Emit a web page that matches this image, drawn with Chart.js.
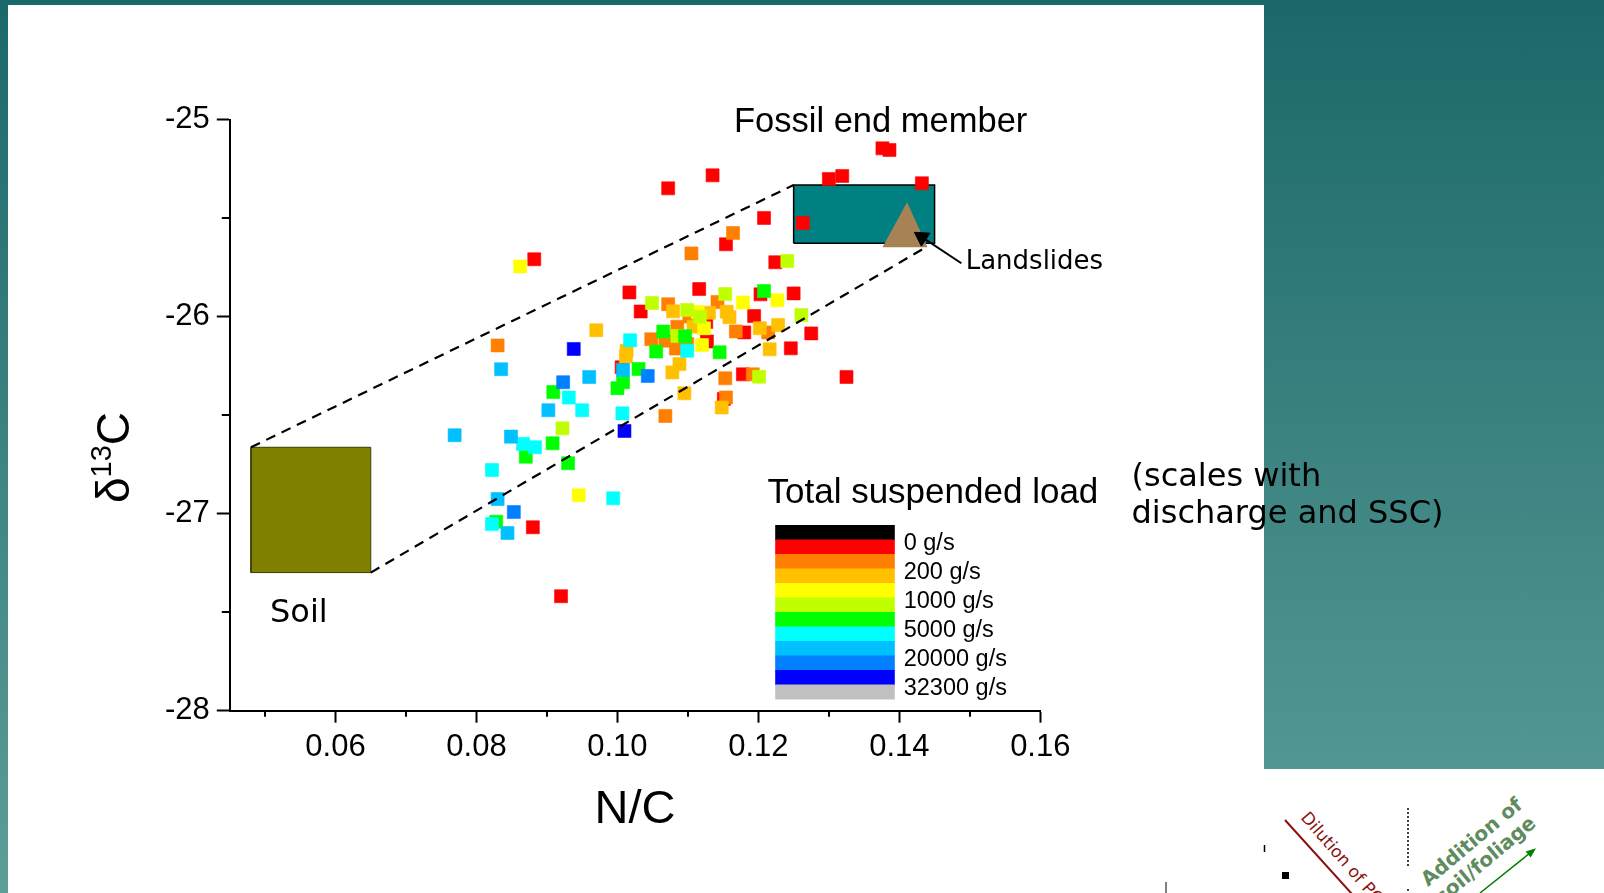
<!DOCTYPE html>
<html>
<head>
<meta charset="utf-8">
<script src="https://cdn.jsdelivr.net/npm/chart.js@4.4.1/dist/chart.umd.min.js"></script>
<style>
html,body{margin:0;padding:0;width:1604px;height:893px;overflow:hidden;}
body{position:relative;background:linear-gradient(to bottom, rgb(27,104,106) 0%, rgb(92,158,152) 100%);}
#panel{position:absolute;left:8px;top:5px;width:1256px;height:888px;background:#fff;}
#panel2{position:absolute;left:1264px;top:769px;width:340px;height:124px;background:#fff;}
#c{position:absolute;left:0;top:0;}
#frag{position:absolute;left:0;top:0;pointer-events:none;}
</style>
</head>
<body>
<div id="panel"></div>
<div id="panel2"></div>
<svg id="frag" width="1604" height="893">
  <line x1="1166" y1="882" x2="1166" y2="893" stroke="#000" stroke-width="1"/>
  <line x1="1264.5" y1="845" x2="1264.5" y2="852" stroke="#000" stroke-width="1.5"/>
  <rect x="1282" y="872" width="7" height="7" fill="#000"/>
  <line x1="1285" y1="820" x2="1352" y2="894" stroke="#8b1010" stroke-width="2"/>
  <text transform="translate(1300,818) rotate(49)" font-family="DejaVu Sans" font-size="17" fill="#8b1010">Dilution of POC</text>
  <line x1="1408" y1="808" x2="1408" y2="867" stroke="#000" stroke-width="1.5" stroke-dasharray="2,2"/>
  <line x1="1408" y1="889" x2="1408" y2="893" stroke="#000" stroke-width="1.5" stroke-dasharray="2,2"/>
  <text transform="translate(1428,887) rotate(-40)" font-family="DejaVu Sans" font-weight="bold" font-size="20" fill="#5e8c5e">Addition of</text>
  <text transform="translate(1442,905) rotate(-40)" font-family="DejaVu Sans" font-weight="bold" font-size="20" fill="#5e8c5e">soil/foliage</text>
  <line x1="1480" y1="893" x2="1530" y2="853" stroke="#008000" stroke-width="1.5"/>
  <polygon points="1536,848.3 1530.7,857.6 1525.7,851.4" fill="#008000"/>
</svg>
<canvas id="c" width="1604" height="893"></canvas>
<script>
// ---------- data ----------
const xTickValues = [0.06, 0.08, 0.10, 0.12, 0.14, 0.16];
const xTickLabels = ['0.06', '0.08', '0.10', '0.12', '0.14', '0.16'];
const xMinorTicks = [0.05, 0.07, 0.09, 0.11, 0.13, 0.15];
const yTickValues = [-28, -27, -26, -25];
const yTickLabels = ['-28', '-27', '-26', '-25'];
const yMinorTicks = [-27.5, -26.5, -25.5];

const loadColors = ['#000000', '#ff0000', '#ff8000', '#ffc000', '#ffff00', '#c0ff00',
                    '#00ff00', '#00ffff', '#00c0ff', '#0080ff', '#0000ff', '#c0c0c0'];
const loadLabels = ['0 g/s', '200 g/s', '1000 g/s', '5000 g/s', '20000 g/s', '32300 g/s'];

const redNC = [0.1376, 0.1386, 0.1135, 0.1072, 0.1300, 0.1319, 0.1432, 0.1208, 0.1263, 0.1154,
  0.0882, 0.1224, 0.1017, 0.1116, 0.1203, 0.1250, 0.1033, 0.1194, 0.1126, 0.1180,
  0.1275, 0.1127, 0.1246, 0.1006, 0.1178, 0.1325, 0.1151, 0.0880, 0.0920];
const redD13C = [-25.146, -25.154, -25.283, -25.349, -25.301, -25.286, -25.323, -25.499, -25.525, -25.633,
  -25.709, -25.724, -25.877, -25.860, -25.887, -25.882, -25.974, -25.997, -26.027, -26.080,
  -26.085, -26.126, -26.161, -26.257, -26.293, -26.306, -26.418, -27.069, -27.419];

const orangeNC = [0.1164, 0.1105, 0.1072, 0.1102, 0.1142, 0.1085, 0.1168, 0.1214, 0.1048, 0.1068,
  0.1083, 0.1099, 0.0830, 0.1153, 0.1192, 0.1154, 0.1068];
const orangeD13C = [-25.576, -25.679, -25.937, -25.999, -25.926, -26.051, -26.075, -26.080, -26.115, -26.122,
  -26.162, -26.139, -26.146, -26.313, -26.293, -26.410, -26.504];

const amberNC = [0.0970, 0.1079, 0.1130, 0.1155, 0.1159, 0.1108, 0.1202, 0.1228, 0.1216, 0.1013,
  0.1012, 0.1088, 0.1078, 0.1095, 0.1148];
const amberD13C = [-26.069, -25.973, -25.980, -25.975, -26.003, -26.051, -26.059, -26.042, -26.166, -26.173,
  -26.202, -26.241, -26.283, -26.389, -26.461];

const yellowNC = [0.0862, 0.1178, 0.1227, 0.1114, 0.1123, 0.1120, 0.0945];
const yellowD13C = [-25.745, -25.928, -25.917, -25.977, -26.059, -26.144, -26.907];

const limeNC = [0.1241, 0.1153, 0.1049, 0.1099, 0.1261, 0.1085, 0.1201, 0.0922, 0.1117];
const limeD13C = [-25.718, -25.885, -25.931, -25.966, -25.992, -26.098, -26.305, -26.567, -26.000];

const greenNC = [0.1208, 0.1065, 0.1096, 0.1055, 0.1145, 0.1030, 0.1008, 0.1000, 0.0909, 0.0908,
  0.0870, 0.0930, 0.0828];
const greenD13C = [-25.870, -26.076, -26.100, -26.177, -26.181, -26.266, -26.333, -26.363, -26.383, -26.643,
  -26.711, -26.744, -27.041];

const cyanNC = [0.1099, 0.1018, 0.0931, 0.0950, 0.1007, 0.0866, 0.0883, 0.0822, 0.0994, 0.0822];
const cyanD13C = [-26.173, -26.120, -26.411, -26.475, -26.491, -26.646, -26.663, -26.778, -26.922, -27.053];

const skyNC = [0.0835, 0.0960, 0.1008, 0.0902, 0.0769, 0.0849, 0.0830, 0.0844];
const skyD13C = [-26.267, -26.306, -26.271, -26.475, -26.602, -26.609, -26.926, -27.098];

const azureNC = [0.0923, 0.1043, 0.0853];
const azureD13C = [-26.333, -26.301, -26.992];

const blueNC = [0.0938, 0.1010];
const blueD13C = [-26.164, -26.580];

// end members and mixing envelope (data space)
const soilNC = [0.048, 0.065];
const soilD13C = [-27.299, -26.663];
const fossilNC = [0.125, 0.145];
const fossilD13C = [-25.628, -25.332];
const landslideNC = [0.1376, 0.1411, 0.1440];
const landslideD13C = [-25.648, -25.420, -25.648];
const upperEnvNC = [0.048, 0.125];
const upperEnvD13C = [-26.663, -25.332];
const lowerEnvNC = [0.065, 0.1438];
const lowerEnvD13C = [-27.299, -25.647];
const arrowNC = [0.1488, 0.1431];
const arrowD13C = [-25.729, -25.594];
const arrowHeadNC = [0.1432];
const arrowHeadD13C = [-25.597];

// ---------- build ----------
const pts = (xs, ys) => xs.map((v, i) => ({x: v, y: ys[i]}));
const series = [
  {c: 1, x: redNC, y: redD13C},
  {c: 2, x: orangeNC, y: orangeD13C},
  {c: 3, x: amberNC, y: amberD13C},
  {c: 4, x: yellowNC, y: yellowD13C},
  {c: 5, x: limeNC, y: limeD13C},
  {c: 6, x: greenNC, y: greenD13C},
  {c: 7, x: cyanNC, y: cyanD13C},
  {c: 8, x: skyNC, y: skyD13C},
  {c: 9, x: azureNC, y: azureD13C},
  {c: 10, x: blueNC, y: blueD13C}
];

const datasets = [];
series.forEach((s, i) => {
  datasets.push({
    type: 'scatter',
    data: pts(s.x, s.y),
    pointStyle: 'rect',
    pointRadius: 9.2,
    pointHoverRadius: 9.2,
    backgroundColor: loadColors[s.c],
    borderColor: loadColors[s.c],
    borderWidth: 0.6,
    order: 30 - i
  });
});

const lineDs = (data, extra) => Object.assign({
  type: 'line', data, pointRadius: 0, pointHoverRadius: 0, borderColor: '#000',
  borderWidth: 2, fill: false, tension: 0
}, extra);

// dashed envelope
datasets.push(lineDs(pts(upperEnvNC, upperEnvD13C), {borderDash: [10, 7], borderWidth: 2.2, order: 2}));
datasets.push(lineDs(pts(lowerEnvNC, lowerEnvD13C), {borderDash: [10, 7], borderWidth: 2.2, order: 3}));
// landslide arrow
datasets.push(lineDs(pts(arrowNC, arrowD13C), {borderWidth: 2, order: 0}));
datasets.push({type: 'scatter', data: pts(arrowHeadNC, arrowHeadD13C), pointStyle: 'triangle', rotation: -57,
  pointRadius: 9, pointHoverRadius: 9, backgroundColor: '#000', borderColor: '#000', borderWidth: 1, order: 1});
// landslide triangle
datasets.push(lineDs(pts(landslideNC, landslideD13C), {borderWidth: 0, borderColor: 'rgba(0,0,0,0)',
  fill: {value: landslideD13C[0]}, backgroundColor: '#a68254', order: 40}));
// fossil box
datasets.push(lineDs([{x: fossilNC[0], y: fossilD13C[1]}, {x: fossilNC[1], y: fossilD13C[1]}],
  {borderWidth: 0, borderColor: 'rgba(0,0,0,0)', fill: {value: fossilD13C[0]}, backgroundColor: '#008080', order: 42}));
datasets.push(lineDs([{x: fossilNC[0], y: fossilD13C[0]}, {x: fossilNC[1], y: fossilD13C[0]},
  {x: fossilNC[1], y: fossilD13C[1]}, {x: fossilNC[0], y: fossilD13C[1]}, {x: fossilNC[0], y: fossilD13C[0]}],
  {borderWidth: 1.5, order: 41}));
// soil box
datasets.push(lineDs([{x: soilNC[0], y: soilD13C[1]}, {x: soilNC[1], y: soilD13C[1]}],
  {borderWidth: 0, borderColor: 'rgba(0,0,0,0)', fill: {value: soilD13C[0]}, backgroundColor: '#808000', order: 44}));
datasets.push(lineDs([{x: soilNC[0], y: soilD13C[0]}, {x: soilNC[1], y: soilD13C[0]},
  {x: soilNC[1], y: soilD13C[1]}, {x: soilNC[0], y: soilD13C[1]}, {x: soilNC[0], y: soilD13C[0]}],
  {borderWidth: 1, borderColor: '#3a3a00', order: 43}));

const SANS = '"Liberation Sans", Arial, sans-serif';
const VERD = '"DejaVu Sans", Verdana, sans-serif';

const decorPlugin = {
  id: 'decor',
  afterDraw(chart) {
    const ctx = chart.ctx;
    const xs = chart.scales.x, ys = chart.scales.y;
    ctx.save();
    // minor ticks
    ctx.strokeStyle = '#000';
    ctx.lineWidth = 2;
    ctx.beginPath();
    xMinorTicks.forEach(v => {
      const px = Math.round(xs.getPixelForValue(v));
      ctx.moveTo(px, ys.bottom);
      ctx.lineTo(px, ys.bottom + 6);
    });
    yMinorTicks.forEach(v => {
      const py = Math.round(ys.getPixelForValue(v));
      ctx.moveTo(xs.left, py);
      ctx.lineTo(xs.left - 8, py);
    });
    ctx.stroke();

    // y axis title: delta 13 C
    ctx.fillStyle = '#000';
    ctx.textAlign = 'left';
    ctx.textBaseline = 'alphabetic';
    ctx.save();
    ctx.translate(129, 503);
    ctx.rotate(-Math.PI / 2);
    ctx.font = '46px ' + SANS;
    ctx.fillText('δ', 0, 0);
    let w = ctx.measureText('δ').width;
    ctx.font = '29px ' + SANS;
    ctx.fillText('13', w, -18);
    w += ctx.measureText('13').width;
    ctx.font = '46px ' + SANS;
    ctx.fillText('C', w, 0);
    ctx.restore();

    // annotations
    ctx.font = '34.5px ' + SANS;
    ctx.fillText('Fossil end member', 734, 132.3);
    ctx.font = '26px ' + VERD;
    ctx.fillText('Landslides', 965.7, 269.3);
    ctx.font = '32px ' + VERD;
    ctx.fillText('Soil', 270, 621.6);
    ctx.font = '32px ' + VERD;
    ctx.fillText('(scales with', 1131.5, 485.7);
    ctx.fillText('discharge and SSC)', 1131.5, 523.3);

    // colour-bar legend
    ctx.font = '35px ' + SANS;
    ctx.fillText('Total suspended load', 767.5, 503.3);
    const bx = 775.2, bw = 119.6, by = 525, bh = 14.5;
    loadColors.forEach((c, i) => {
      ctx.fillStyle = c;
      ctx.fillRect(bx, by + i * bh, bw, bh + 0.5);
    });
    ctx.fillStyle = '#000';
    ctx.font = '23.5px ' + SANS;
    loadLabels.forEach((t, i) => {
      ctx.fillText(t, 903.7, by + (2 * i + 1) * bh + 10.5);
    });
    ctx.restore();
  }
};

Chart.defaults.font.family = SANS;
Chart.defaults.color = '#000';

new Chart(document.getElementById('c'), {
  type: 'scatter',
  data: {datasets},
  options: {
    responsive: false,
    animation: false,
    events: [],
    layout: {padding: {left: 0, top: 119.6, right: 563.7, bottom: 0}},
    plugins: {legend: {display: false}, tooltip: {enabled: false}},
    scales: {
      x: {
        type: 'linear', min: 0.045, max: 0.16,
        afterFit: s => { s.height = 182.3; },
        afterBuildTicks: s => { s.ticks = xTickValues.map(v => ({value: v})); },
        ticks: {font: {size: 31}, color: '#000', padding: 6, autoSkip: false, maxRotation: 0,
          callback: (v, i) => xTickLabels[i]},
        grid: {display: true, drawOnChartArea: false, drawTicks: true, tickLength: 12, tickWidth: 2, tickColor: '#000'},
        border: {display: true, color: '#000', width: 2},
        title: {display: true, text: 'N/C', font: {size: 47}, color: '#000', padding: {top: 0, bottom: 55}}
      },
      y: {
        type: 'linear', min: -28, max: -25,
        afterFit: s => { s.width = 229.8; },
        afterBuildTicks: s => { s.ticks = yTickValues.map(v => ({value: v})); },
        ticks: {font: {size: 31}, color: '#000', padding: 7, autoSkip: false,
          callback: (v, i) => yTickLabels[i]},
        grid: {display: true, drawOnChartArea: false, drawTicks: true, tickLength: 13, tickWidth: 2, tickColor: '#000'},
        border: {display: true, color: '#000', width: 2}
      }
    }
  },
  plugins: [decorPlugin]
});
</script>
</body>
</html>
